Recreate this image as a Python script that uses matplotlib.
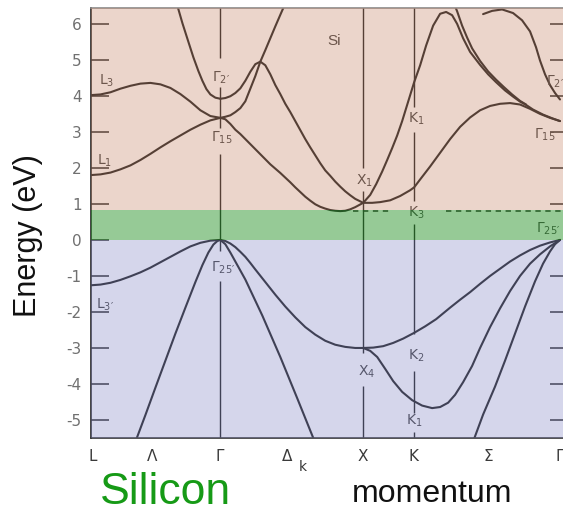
import matplotlib
matplotlib.use("Agg")
import matplotlib.pyplot as plt

plt.rcParams["mathtext.fontset"] = "dejavusans"
plt.rcParams["mathtext.default"] = "regular"
plt.rcParams["axes.unicode_minus"] = False

# symmetry points along L - Gamma - X - K - Gamma (momentum in arbitrary units)
sym_labels = ["L", "Λ", "Γ", "Δ", "X", "K", "Σ", "Γ"]
sym_k = [0.2, 6.2, 12.9, 19.7, 27.3, 32.3, 39.8, 47.0]
gamma_k, x_k, k_k = 13.0, 27.3, 32.4

gap_top = 0.84      # top of the gap shading (eV)
cbm = 0.80          # conduction band minimum marker (eV)
e_ticks = list(range(-5, 7))
e_ticks_right = [-5, -4, -3, -2, -1, 1, 2, 3, 4, 5, 6]

# ---- conduction bands ----
lam_top_k = [8.7, 9.2, 9.8, 10.3, 10.8, 11.2, 11.6, 12.0, 12.5, 13.0]
lam_top_e = [6.5, 6.02, 5.5, 5.07, 4.69, 4.42, 4.19, 4.04, 3.95, 3.92]

l3_k = [0, 1, 2, 3, 4, 5, 6, 7, 8, 9, 10, 11, 12, 13]
l3_e = [4.02, 4.04, 4.1, 4.2, 4.28, 4.34, 4.36, 4.32, 4.22, 4.05, 3.84, 3.6, 3.44, 3.39]

l1_k = [0, 1, 2, 3, 4, 5, 6, 7, 8, 9, 10, 11, 12, 13]
l1_e = [1.8, 1.82, 1.87, 1.96, 2.07, 2.22, 2.39, 2.57, 2.74, 2.9, 3.06, 3.2, 3.32, 3.39]

g2_k = [13.0, 13.5, 14.0, 14.5, 15.0, 15.5, 16.0, 16.5, 17.0, 17.5, 18.0, 18.5, 19.0,
        19.5, 20.0, 20.5, 21.0, 21.5, 22.0, 22.5, 23.0, 23.5, 24.0, 24.5, 25.0, 25.5,
        26.0, 26.5, 27.3, 28.0, 28.6, 29.2, 29.7, 30.2, 30.7, 31.2, 31.7, 32.4, 33.0,
        33.6, 34.3, 35.0, 35.6, 36.2, 36.7, 37.3, 38.0, 39.0, 39.8, 40.6, 41.5, 42.3,
        43.0, 43.6, 44.3, 45.3, 46.2, 47.0]
g2_e = [3.92, 3.94, 3.99, 4.08, 4.21, 4.42, 4.67, 4.88, 4.95, 4.85, 4.6, 4.3, 4.05,
        3.78, 3.55, 3.3, 3.05, 2.8, 2.57, 2.35, 2.13, 1.93, 1.78, 1.62, 1.48, 1.35,
        1.24, 1.14, 1.03, 1.25, 1.55, 1.9, 2.22, 2.55, 2.9, 3.3, 3.75, 4.38, 4.85,
        5.4, 5.95, 6.28, 6.33, 6.24, 6.0, 5.6, 5.22, 4.86, 4.6, 4.38, 4.15, 3.98,
        3.84, 3.75, 3.62, 3.48, 3.38, 3.3]

g15_up_k = [13.0, 13.5, 14.0, 14.5, 15.0, 15.5, 16.0, 16.5, 17.0, 17.5, 18.0, 18.5, 19.0, 19.3, 19.6]
g15_up_e = [3.39, 3.42, 3.46, 3.55, 3.66, 3.85, 4.2, 4.55, 4.95, 5.27, 5.6, 5.93, 6.25, 6.44, 6.64]

d1_k = [13.0, 13.5, 14.0, 14.5, 15.0, 15.5, 16.0, 16.5, 17.0, 17.5, 18.0, 18.5, 19.0,
        19.5, 20.0, 20.5, 21.0, 21.5, 22.0, 22.5, 23.0, 23.5, 24.0, 24.5, 25.0, 25.5,
        26.0, 26.5, 27.3, 28.2, 29.0, 30.0, 31.0, 32.0, 32.4, 33.0, 34.0, 35.0, 36.0,
        37.0, 38.0, 39.0, 40.0, 41.0, 42.0, 43.0, 44.0, 45.0, 46.0, 47.0]
d1_e = [3.39, 3.35, 3.22, 3.06, 2.94, 2.8, 2.66, 2.52, 2.38, 2.24, 2.1, 1.98, 1.86,
        1.73, 1.6, 1.46, 1.33, 1.2, 1.09, 0.99, 0.92, 0.87, 0.83, 0.81, 0.8, 0.81,
        0.85, 0.91, 1.03, 1.03, 1.05, 1.1, 1.22, 1.38, 1.46, 1.68, 2.04, 2.42, 2.8,
        3.14, 3.4, 3.6, 3.72, 3.78, 3.8, 3.76, 3.64, 3.5, 3.39, 3.3]

sig_in_k = [36.3, 36.7, 37.2, 37.7, 38.2, 39.0, 39.8, 40.6, 41.4, 42.2, 43.0, 43.6]
sig_in_e = [6.62, 6.35, 5.95, 5.62, 5.32, 4.97, 4.68, 4.45, 4.24, 4.04, 3.86, 3.76]

g2r_k = [39.3, 40.2, 41.2, 42.3, 43.2, 44.0, 44.6, 45.0, 45.5, 46.0, 46.5, 47.0]
g2r_e = [6.27, 6.36, 6.4, 6.3, 6.1, 5.79, 5.35, 4.98, 4.6, 4.3, 4.08, 3.9]

# ---- valence bands ----
l3v_k = [0, 1, 2, 3, 4, 5, 6, 7, 8, 9, 10, 11, 12, 13]
l3v_e = [-1.26, -1.24, -1.19, -1.11, -1.01, -0.9, -0.77, -0.62, -0.47, -0.32, -0.18, -0.08, -0.02, 0.0]

lamv_k = [4.5, 5.5, 6.5, 7.5, 8.5, 9.5, 10.5, 11.2, 11.8, 12.3, 12.7, 13.0]
lamv_e = [-5.6, -4.86, -4.1, -3.35, -2.6, -1.88, -1.17, -0.7, -0.35, -0.13, -0.03, 0.0]

d5_k = [13.0, 13.5, 14.0, 14.5, 15.0, 15.5, 16.0, 16.5, 17.5, 18.5, 19.5, 20.5, 21.5,
        22.5, 23.5, 24.5, 25.5, 26.5, 27.3, 28.3, 29.3, 30.3, 31.3, 32.4, 33.5, 34.6,
        36.0, 37.0, 38.0, 39.0, 40.0, 41.0, 42.0, 43.0, 44.0, 45.0, 46.0, 47.0]
d5_e = [0.0, -0.03, -0.1, -0.2, -0.33, -0.47, -0.64, -0.82, -1.17, -1.52, -1.85, -2.15, -2.42,
        -2.63, -2.8, -2.91, -2.97, -3.0, -3.0, -2.99, -2.95, -2.86, -2.74, -2.58, -2.4, -2.2,
        -1.88, -1.66, -1.45, -1.22, -1.0, -0.8, -0.6, -0.43, -0.28, -0.16, -0.07, 0.0]

dst_k = [13.0, 13.5, 14.0, 14.7, 15.5, 17.2, 19.0, 20.7, 22.3, 22.6]
dst_e = [0.0, -0.12, -0.35, -0.7, -1.1, -2.1, -3.25, -4.4, -5.5, -5.7]

x4_k = [27.3, 28.0, 28.7, 29.5, 30.3, 31.2, 32.2, 33.2, 34.2, 35.0, 35.8, 36.5, 37.3,
        38.2, 39.0, 40.0, 41.0, 42.0, 43.0, 44.0, 45.0, 46.0, 47.0]
x4_e = [-3.0, -3.08, -3.25, -3.58, -3.92, -4.22, -4.45, -4.6, -4.67, -4.64, -4.52, -4.3, -3.95,
        -3.5, -3.0, -2.42, -1.9, -1.42, -1.0, -0.66, -0.4, -0.18, 0.0]

sigv_k = [38.3, 39.3, 40.5, 41.5, 42.5, 43.5, 44.5, 45.3, 46.0, 46.5, 47.0]
sigv_e = [-5.6, -4.85, -4.07, -3.35, -2.6, -1.85, -1.15, -0.66, -0.32, -0.12, 0.0]

bands = [(lam_top_k, lam_top_e), (l3_k, l3_e), (l1_k, l1_e), (g2_k, g2_e),
         (g15_up_k, g15_up_e), (d1_k, d1_e), (sig_in_k, sig_in_e), (g2r_k, g2r_e),
         (l3v_k, l3v_e), (lamv_k, lamv_e), (d5_k, d5_e), (dst_k, dst_e),
         (x4_k, x4_e), (sigv_k, sigv_e)]

# point labels inside the plot: (text, k, E)
point_labels = [
    (r"$L_3$", 1.6, 4.42), (r"$L_1$", 1.4, 2.2), (r"$L_{3\prime}$", 1.5, -1.8),
    (r"$\Gamma_{2\prime}$", 13.1, 4.5), (r"$\Gamma_{15}$", 13.1, 2.83),
    (r"$\Gamma_{25\prime}$", 13.3, -0.78),
    (r"$X_1$", 27.4, 1.64), (r"$X_4$", 27.6, -3.67),
    (r"$K_1$", 32.6, 3.36), (r"$K_3$", 32.6, 0.76), (r"$K_2$", 32.6, -3.22), (r"$K_1$", 32.4, -5.03),
    (r"$\Gamma_{2\prime}$", 46.5, 4.39), (r"$\Gamma_{15}$", 45.5, 2.92),
    (r"$\Gamma_{25\prime}$", 45.8, 0.3),
]

fig = plt.figure(figsize=(5.63, 5.12), dpi=100)
ax = fig.add_axes([90.5 / 563, 1 - 438 / 512, 1 - 90.5 / 563, 430 / 512])

line_col = "#1a1a1a"
for k, e in bands:
    ax.plot(k, e, color=line_col, lw=1.5, solid_capstyle="round", zorder=2)

# vertical symmetry lines, broken where the labels sit
vgaps = {
    gamma_k: [(-5.6, -1.15), (-0.3, 2.38), (3.1, 4.25), (5.05, 6.6)],
    x_k: [(-5.6, -4.05), (-3.15, 1.35), (2.0, 6.6)],
    k_k: [(-5.6, -5.32), (-4.8, -3.65), (-2.6, 0.45), (1.08, 3.0), (3.68, 6.6)],
}
for k0, segs in vgaps.items():
    for lo, hi in segs:
        ax.vlines(k0, lo, hi, color=line_col, lw=1.0, zorder=2)

# dashed conduction band minimum level
for a, b in [(26.3, 30.0), (35.6, 47.3)]:
    ax.hlines(cbm, a, b, color=line_col, lw=1.1, linestyles=(0, (3.5, 3)), zorder=2)

for txt, k, e in point_labels:
    ax.text(k, e, txt, ha="center", va="center", fontsize=10, color="#3c3c3c", zorder=3)
ax.text(24.4, 5.53, "Si", ha="center", va="center", fontsize=11,
        family="Liberation Sans", color="#3c3c3c", zorder=3)

# translucent shading for valence band, gap and conduction band
ax.axhspan(-7, 0, color="#878AC6", alpha=0.35, lw=0, zorder=5)
ax.axhspan(0, gap_top, color="#2F972F", alpha=0.5, lw=0, zorder=5)
ax.axhspan(gap_top, 8, color="#C6876A", alpha=0.35, lw=0, zorder=5)

ax.set_xlim(0, 47.3)
ax.set_ylim(-5.5, 6.44)

ax.spines["right"].set_visible(False)
ax.spines["top"].set_color("#8a8a8a")
ax.spines["left"].set_color("#222222")
ax.spines["bottom"].set_color("#333333")
for s in ["left", "bottom", "top"]:
    ax.spines[s].set_linewidth(1.2)

ax.set_yticks(e_ticks, [str(v) for v in e_ticks])
ax.set_yticks(e_ticks_right, minor=True)
ax.yaxis.remove_overlapping_locs = False
ax.tick_params(axis="y", which="major", direction="in", length=13, width=1.1,
               color="#222222", left=True, right=False, pad=6.5,
               labelsize=11, labelcolor="#707070")
ax.tick_params(axis="y", which="minor", direction="in", length=9.5, width=1.1,
               color="#222222", left=False, right=True, labelleft=False)

ax.set_xticks(sym_k, sym_labels)
ax.tick_params(axis="x", length=0, pad=8, labelsize=11, labelcolor="#3a3a3a")
fig.text(303 / 563, 1 - 467 / 512, "k", ha="center", va="center",
         fontsize=10, color="#3a3a3a")

fig.text(28 / 563, 1 - 236 / 512, "Energy (eV)", rotation=90, ha="center",
         va="center", fontsize=22, family="Liberation Sans", color="#111111")
fig.text(166 / 563, 1 - 504 / 512, "Silicon", ha="center", va="baseline",
         fontsize=32, family="Liberation Sans", color="#169a16")
fig.text(432 / 563, 1 - 502 / 512, "momentum", ha="center", va="baseline",
         fontsize=23, family="Liberation Sans", color="#111111")

fig.savefig("out.png", dpi=100)
